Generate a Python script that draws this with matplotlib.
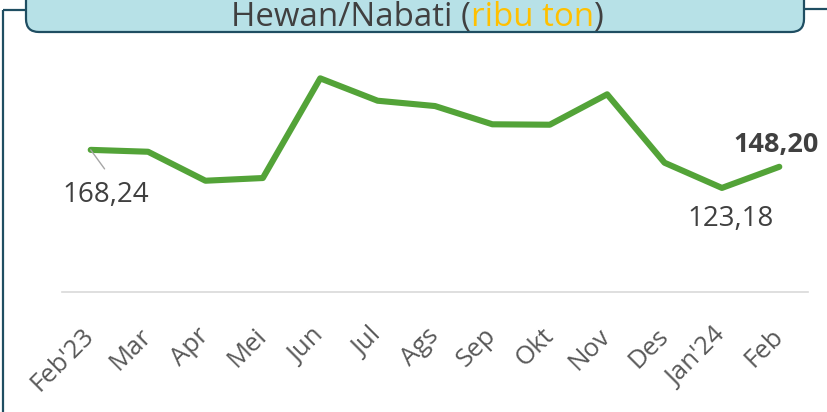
import matplotlib
matplotlib.use('Agg')
import matplotlib.pyplot as plt
from matplotlib.patches import FancyBboxPatch

bulan = ["Feb'23", 'Mar', 'Apr', 'Mei', 'Jun', 'Jul', 'Ags', 'Sep', 'Okt',
         'Nov', 'Des', "Jan'24", 'Feb']
nilai = [168.24, 166.0, 131.7, 134.9, 252.9, 226.4, 220.1, 198.5, 198.0,
         234.0, 153.0, 123.18, 148.20]

hijau = '#53a338'
abu_teks = '#404040'
abu_tick = '#595959'
biru_tua = '#1f4e62'
biru_muda = '#b7e1e7'
oranye = '#ffc000'

plt.rcParams['font.family'] = ['Open Sans', 'DejaVu Sans']

W, H = 828, 412
fig = plt.figure(figsize=(W / 100, H / 100), dpi=100)

# --- lapisan hiasan (kotak judul + garis bingkai), koordinat piksel ---
bg = fig.add_axes([0, 0, 1, 1])
bg.set_xlim(0, W)
bg.set_ylim(H, 0)
bg.axis('off')

bg.plot([3.5, 3.5], [9.5, H + 2], color=biru_tua, lw=1.6, solid_capstyle='butt')
bg.plot([3.5, 26], [9.5, 9.5], color=biru_tua, lw=1.6, solid_capstyle='butt')
bg.plot([804, W], [9.0, 9.0], color=biru_tua, lw=1.6, solid_capstyle='butt')

kotak = FancyBboxPatch((26, -40), 778, 72,
                       boxstyle='round,pad=0,rounding_size=13',
                       facecolor=biru_muda, edgecolor=biru_tua, lw=1.6)
bg.add_patch(kotak)

# judul dengan dua warna
renderer = fig.canvas.get_renderer()
x0 = 231
potongan = [('Hewan/Nabati (', abu_teks), ('ribu ton', oranye), (')', abu_teks)]
for teks, warna in potongan:
    t = bg.text(x0, 25.5, teks, color=warna, fontsize=23.8, va='baseline', ha='left')
    bb = t.get_window_extent(renderer=renderer)
    x0 += bb.width

# --- grafik garis ---
ax = fig.add_axes([62 / W, (H - 292) / H, (808 - 62) / W, (292 - 60) / H])
x = list(range(len(bulan)))
ax.plot(x, nilai, color=hijau, lw=4.4, solid_capstyle='round', solid_joinstyle='round')
ax.set_xlim(-0.5, len(bulan) - 0.5)
ax.set_ylim(0, 274.6)

for s in ['top', 'left', 'right']:
    ax.spines[s].set_visible(False)
ax.spines['bottom'].set_color('#d9d9d9')
ax.spines['bottom'].set_linewidth(1.2)
ax.set_yticks([])
ax.set_xticks(x)
ax.set_xticklabels(bulan, rotation=45, ha='right', va='center',
                   rotation_mode='anchor', fontsize=18.5, color=abu_tick)
ax.tick_params(axis='x', length=0, pad=29)
ax.patch.set_alpha(0)

# label data
ax.annotate('', xy=(0, nilai[0]), xytext=(10, -13.7), textcoords='offset points',
            arrowprops=dict(arrowstyle='-', color='#a6a6a6', lw=1,
                            shrinkA=0, shrinkB=0))
ax.annotate('168,24', xy=(0, nilai[0]), xytext=(10.8, -32.5), textcoords='offset points',
            ha='center', va='center', fontsize=20, color=abu_teks)
ax.annotate('123,18', xy=(11, nilai[11]), xytext=(6.5, -22.5), textcoords='offset points',
            ha='center', va='center', fontsize=20, color=abu_teks)
ax.annotate('148,20', xy=(12, nilai[12]), xytext=(-2, 16), textcoords='offset points',
            ha='center', va='center', fontsize=19.5, color=abu_teks, fontweight='bold')

fig.savefig('out.png', dpi=100)
